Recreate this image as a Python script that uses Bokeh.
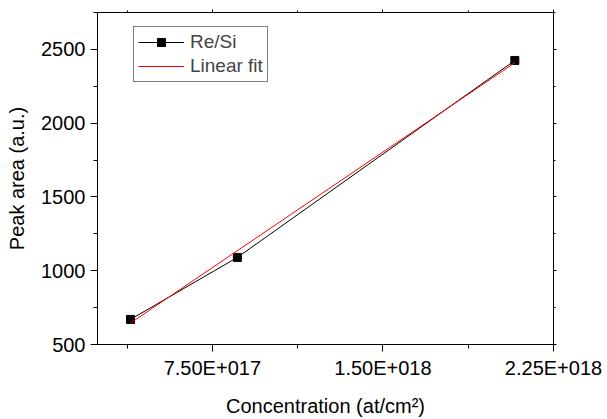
from bokeh.plotting import figure
from bokeh.models import Range1d, FixedTicker, LinearAxis, Legend, LegendItem
from bokeh.embed import file_html
from bokeh.resources import INLINE

# Data
conc = [0.39e18, 0.86e18, 2.08e18]
peak_area = [670, 1090, 2425]
fit_x = [0.39e18, 2.08e18]
fit_y = [645, 2410]

x_ticks = [0.75e18, 1.5e18, 2.25e18]
x_tick_labels = ["7.50E+017", "1.50E+018", "2.25E+018"]
x_minor = [0.375e18, 1.125e18, 1.875e18]
y_ticks = [500, 1000, 1500, 2000, 2500]
y_minor = [750, 1250, 1750, 2250, 2750]

FONT = "Liberation Sans"

p = figure(width=607, height=419, output_backend="svg", toolbar_location=None,
           x_range=Range1d(0.245e18, 2.25e18), y_range=Range1d(500, 2750),
           min_border_left=97, min_border_right=54, min_border_top=12, min_border_bottom=75,
           x_axis_type=None, y_axis_type=None)
p.grid.visible = False
p.outline_line_color = "black"
p.outline_line_width = 1
p.background_fill_color = "white"
p.border_fill_color = "white"

xt = FixedTicker(ticks=x_ticks, minor_ticks=x_minor)
yt = FixedTicker(ticks=y_ticks, minor_ticks=y_minor)


def style(ax, labels=True):
    ax.axis_line_color = "black"
    ax.major_tick_line_color = "black"
    ax.minor_tick_line_color = "black"
    ax.major_tick_in = 0
    ax.minor_tick_in = 0
    ax.major_label_text_font = FONT
    ax.axis_label_text_font = FONT
    ax.axis_label_text_font_style = "normal"
    ax.major_label_text_color = "black"
    ax.axis_label_text_color = "black"
    if labels:
        ax.major_tick_out = 7
        ax.minor_tick_out = 4
        ax.major_label_text_font_size = "20px"
        ax.axis_label_text_font_size = "20px"
    else:
        ax.major_tick_out = 3
        ax.minor_tick_out = 2
        ax.major_label_text_font_size = "0px"
        ax.major_label_text_alpha = 0


xb = LinearAxis(ticker=xt, axis_label="Concentration (at/cm²)")
xb.major_label_overrides = {t: l for t, l in zip(x_ticks, x_tick_labels)}
style(xb)
xb.major_label_standoff = 5
xb.axis_label_standoff = 13
p.add_layout(xb, "below")

yl = LinearAxis(ticker=yt, axis_label="Peak area (a.u.)")
style(yl)
yl.major_label_standoff = 5
yl.axis_label_standoff = 10
p.add_layout(yl, "left")

xa = LinearAxis(ticker=xt)
style(xa, labels=False)
p.add_layout(xa, "above")
yr = LinearAxis(ticker=yt)
style(yr, labels=False)
p.add_layout(yr, "right")

l1 = p.line(conc, peak_area, line_color="black", line_width=1)
s1 = p.scatter(conc, peak_area, marker="square", size=8, fill_color="black", line_color="black")
l2 = p.line(fit_x, fit_y, line_color="#ff0000", line_width=1)

legend = Legend(items=[LegendItem(label="Re/Si", renderers=[l1, s1]),
                       LegendItem(label="Linear fit", renderers=[l2])],
                location=(36, 262))
legend.label_text_font = FONT
legend.label_text_font_size = "19px"
legend.label_height = 20
legend.glyph_height = 20
legend.glyph_width = 46
legend.label_standoff = 6
legend.spacing = 2
legend.padding = 4
legend.margin = 0
legend.border_line_color = "black"
legend.border_line_width = 1
legend.background_fill_alpha = 1
p.add_layout(legend, "center")

open("out.html", "w").write(file_html(p, INLINE))
